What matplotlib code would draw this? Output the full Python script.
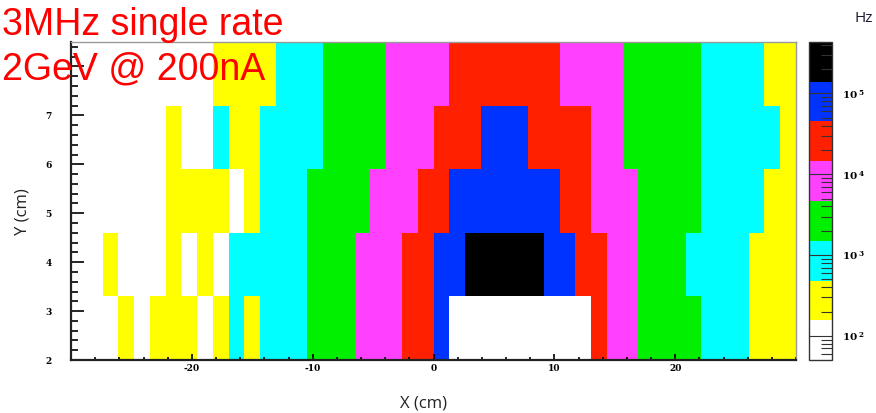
import numpy as np
import matplotlib
matplotlib.use("Agg")
import matplotlib.pyplot as plt
from matplotlib.colors import ListedColormap, LogNorm
from matplotlib.ticker import MultipleLocator, LogLocator, FixedLocator, FuncFormatter

plt.rcParams['axes.unicode_minus'] = False
plt.rcParams['mathtext.fontset'] = 'dejavuserif'

# bin edges (cm)
x_edges = np.linspace(-30, 30, 47)
y_edges = np.linspace(2, 8.5, 6)

# rates per cell (Hz), one list per row from bottom to top, x from -30 to 30
row_2_0 = [90, 90, 90, 280, 90, 280, 280, 280, 90, 280, 850, 280, 850, 850, 850,
           2650, 2650, 2650, 8200, 8200, 8200, 25500, 25500, 79000,
           90, 90, 90, 90, 90, 90, 90, 90, 90, 25500, 8200, 8200,
           2650, 2650, 2650, 2650, 850, 850, 850, 280, 280, 280]
row_3_3 = [90, 90, 280, 90, 90, 90, 280, 90, 280, 90, 850, 850, 850, 850, 850,
           2650, 2650, 2650, 8200, 8200, 8200, 25500, 25500, 79000,
           79000, 246000, 246000, 246000, 246000, 246000, 79000, 79000, 25500, 25500, 8200, 8200,
           2650, 2650, 2650, 850, 850, 850, 850, 280, 280, 280]
row_4_6 = [90, 90, 90, 90, 90, 90, 280, 280, 280, 280, 90, 280, 850, 850, 850,
           2650, 2650, 2650, 2650, 8200, 8200, 8200, 25500, 25500,
           79000, 79000, 79000, 79000, 79000, 79000, 79000, 25500, 25500, 8200, 8200, 8200,
           2650, 2650, 2650, 2650, 850, 850, 850, 850, 280, 280]
row_5_9 = [90, 90, 90, 90, 90, 90, 280, 90, 90, 850, 280, 280, 850, 850, 850,
           850, 2650, 2650, 2650, 2650, 8200, 8200, 8200, 25500,
           25500, 25500, 79000, 79000, 79000, 25500, 25500, 25500, 25500, 8200, 8200, 2650,
           2650, 2650, 2650, 2650, 850, 850, 850, 850, 850, 280]
row_7_2 = [90, 90, 90, 90, 90, 90, 90, 90, 90, 280, 280, 280, 280, 850, 850,
           850, 2650, 2650, 2650, 2650, 8200, 8200, 8200, 8200,
           25500, 25500, 25500, 25500, 25500, 25500, 25500, 8200, 8200, 8200, 8200, 2650,
           2650, 2650, 2650, 2650, 850, 850, 850, 850, 280, 280]

x_ticks = [-20, -10, 0, 10, 20]
y_ticks = [2, 3, 4, 5, 6, 7]
cbar_ticks = [1e2, 1e3, 1e4, 1e5]

level_colors = ['#ffffff', '#ffff00', '#00ffff', '#00f000',
                '#ff40ff', '#ff2000', '#0033ff', '#000000']
rate_min = 50.4
rate_max = 4.33e5

rates = np.array([row_2_0, row_3_3, row_4_6, row_5_9, row_7_2])

fig = plt.figure(figsize=(8.76, 4.13), dpi=100)
ax = fig.add_axes([71 / 876, 1 - 360 / 413, 725 / 876, 318 / 413])
cax = fig.add_axes([809 / 876, 1 - 360 / 413, 23 / 876, 318 / 413])

cmap = ListedColormap(level_colors)
norm = LogNorm(vmin=rate_min, vmax=rate_max)
mesh = ax.pcolormesh(x_edges, y_edges, rates, cmap=cmap, norm=norm)

ax.set_xlim(-30, 30)
ax.set_ylim(2, 8.5)

tick_font = dict(family='DejaVu Serif', weight='bold', size=6.5)
ax.xaxis.set_major_locator(FixedLocator(x_ticks))
ax.xaxis.set_minor_locator(MultipleLocator(2))
ax.yaxis.set_major_locator(FixedLocator(y_ticks + [8]))
ax.yaxis.set_major_formatter(FuncFormatter(lambda v, p: '%d' % v if v in y_ticks else ''))
ax.yaxis.set_minor_locator(MultipleLocator(0.2))
ax.tick_params(axis='x', which='major', direction='in', length=4.5, width=1.2, pad=3)
ax.tick_params(axis='x', which='minor', direction='in', length=2.2, width=1.2)
ax.tick_params(axis='y', which='major', direction='in', length=9, width=1.2, pad=14)
ax.tick_params(axis='y', which='minor', direction='in', length=5, width=1.2)
for lab in ax.get_xticklabels() + ax.get_yticklabels():
    lab.set_fontproperties(matplotlib.font_manager.FontProperties(**tick_font))

for side in ['left', 'bottom']:
    ax.spines[side].set_color('#222222')
    ax.spines[side].set_linewidth(1.6)
for side in ['top', 'right']:
    ax.spines[side].set_color('#999999')
    ax.spines[side].set_linewidth(1.0)

cb = fig.colorbar(mesh, cax=cax)
cb.outline.set_edgecolor('#333333')
cb.outline.set_linewidth(1.0)
cax.yaxis.set_major_locator(FixedLocator(cbar_ticks))
cax.yaxis.set_minor_locator(LogLocator(base=10, subs=np.arange(2, 10)))
cax.yaxis.set_major_formatter(FuncFormatter(lambda v, p: r'$\mathbf{10^{\ %d}}$' % round(np.log10(v))))
cax.yaxis.set_minor_formatter(FuncFormatter(lambda v, p: ''))
cax.tick_params(which='major', direction='in', length=16.5, width=0.8, color='#333333', pad=7, labelsize=7.5)
cax.tick_params(which='minor', direction='in', length=8, width=0.8, color='#333333')

fig.text(0.483, 0.024, 'X (cm)', family='Open Sans', size=12, color='#222222', ha='center', va='center')
fig.text(0.026, 0.487, 'Y (cm)', family='Open Sans', size=12, color='#222222', ha='center', va='center',
         rotation=90)
fig.text(0.986, 0.956, 'Hz', family='Open Sans', size=11, color='#1a1a33', ha='center', va='center')

fig.text(0.002, 1 - 35 / 413, '3MHz single rate', family='Liberation Sans', size=27, color='#ff0000',
         va='baseline')
fig.text(0.002, 1 - 79 / 413, '2GeV @ 200nA', family='Liberation Sans', size=27, color='#ff0000',
         va='baseline')

fig.savefig('out.png', dpi=100)
